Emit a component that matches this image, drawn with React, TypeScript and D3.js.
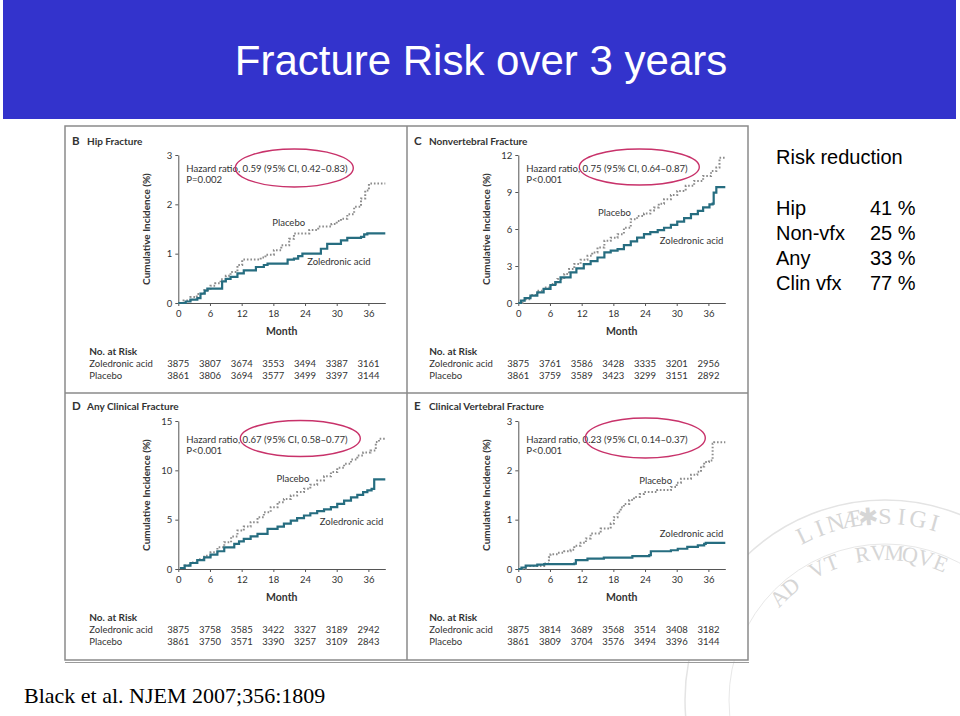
import { useEffect, useRef } from "react";
import * as d3 from "d3";

type Pt = [number, number];

// months shown on the x axis and used for the "No. at Risk" columns
const months = [0, 6, 12, 18, 24, 30, 36];

// B: hip fracture
const hipZol: Pt[] = [
  [0, 0], [1.4, 0.03], [2.3, 0.07], [3.6, 0.1], [4.2, 0.19], [5, 0.25], [5.5, 0.29],
  [8.3, 0.44], [9, 0.49], [9.9, 0.53], [11.2, 0.6], [12.4, 0.66], [14.7, 0.73],
  [16.2, 0.77], [16.9, 0.8], [20.7, 0.88], [21.9, 0.9], [22.7, 0.95], [23.5, 1.0],
  [27, 1.1], [28.2, 1.2], [30.8, 1.27], [32, 1.32], [34.6, 1.34], [35.2, 1.39],
  [35.8, 1.41], [39.2, 1.41],
];
const hipPla: Pt[] = [
  [0, 0], [1, 0.05], [2.3, 0.12], [3.5, 0.18], [4.9, 0.26], [6.1, 0.35], [7, 0.4],
  [8, 0.48], [9, 0.55], [9.9, 0.63], [11.2, 0.77], [12.1, 0.88], [15.6, 0.92],
  [16.5, 0.98], [18.1, 1.07], [19.5, 1.17], [21, 1.3], [21.9, 1.41], [24.8, 1.48],
  [26.5, 1.55], [29, 1.6], [30, 1.66], [30.8, 1.71], [32, 1.8], [33.3, 1.95],
  [34.6, 2.12], [35.4, 2.28], [36.1, 2.42], [39.2, 2.42],
];
const hipRiskZol = [3875, 3807, 3674, 3553, 3494, 3387, 3161];
const hipRiskPla = [3861, 3806, 3694, 3577, 3499, 3397, 3144];

// C: nonvertebral fracture
const nonvertZol: Pt[] = [
  [0, 0], [0.5, 0.2], [1.2, 0.4], [2.3, 0.59], [3.6, 0.86], [4.8, 1.15], [6.1, 1.46],
  [7, 1.7], [8, 2.08], [9.9, 2.48], [11, 2.8], [12.4, 3.16], [13.7, 3.4], [15, 3.69],
  [16.3, 4.1], [17.5, 4.25], [18.8, 4.37], [20, 4.7], [21.3, 4.99], [22.5, 5.3],
  [23.8, 5.58], [25, 5.75], [26.4, 5.91], [27.6, 6.1], [28.9, 6.34], [30.1, 6.6],
  [31.4, 6.88], [32.7, 7.2], [34, 7.47], [35, 7.75], [36.2, 8.0], [36.8, 8.06],
  [37, 8.95], [37.5, 9.4], [39.2, 9.4],
];
const nonvertPla: Pt[] = [
  [0, 0], [1, 0.3], [2.3, 0.65], [3.6, 1.0], [4.8, 1.25], [6.1, 1.54], [7.4, 1.95],
  [8.7, 2.35], [9.6, 2.75], [10.6, 3.16], [11.8, 3.5], [13.1, 3.83], [14, 4.1],
  [15, 4.5], [16.3, 5.04], [17.5, 5.3], [18.8, 5.58], [20, 6.1], [21.3, 6.8],
  [22.5, 7.05], [23.8, 7.25], [25, 7.5], [25.7, 7.74], [26.6, 8.05], [27.6, 8.41],
  [28.9, 8.75], [30.1, 9.09], [31.7, 9.5], [33.3, 9.9], [35, 10.3], [36.5, 10.7],
  [37.5, 10.98], [38.1, 11.78], [39.2, 11.8],
];
const nonvertRiskZol = [3875, 3761, 3586, 3428, 3335, 3201, 2956];
const nonvertRiskPla = [3861, 3759, 3589, 3423, 3299, 3151, 2892];

// D: any clinical fracture
const anyZol: Pt[] = [
  [0.3, 0.1], [1.2, 0.35], [2.3, 0.61], [3.6, 0.9], [4.9, 1.18], [6.1, 1.46],
  [7.4, 1.8], [8.7, 2.2], [10.6, 2.54], [11.5, 2.8], [12.4, 3.05], [13.7, 3.3],
  [15, 3.56], [16.9, 4.06], [18.8, 4.3], [20, 4.6], [21.3, 4.91], [22.5, 5.15],
  [23.8, 5.42], [25, 5.65], [26.3, 5.86], [27.6, 6.05], [28.9, 6.27], [30.1, 6.6],
  [31.4, 6.94], [32.7, 7.25], [33.9, 7.52], [35, 7.8], [35.8, 7.96], [36.6, 8.13],
  [37.1, 9.08], [39.2, 9.08],
];
const anyPla: Pt[] = [
  [0.3, 0.1], [1.2, 0.35], [2.3, 0.65], [3.6, 1.0], [4.9, 1.35], [6.1, 1.69],
  [7.4, 2.2], [8.7, 2.71], [10, 3.3], [11.2, 3.89], [12.4, 4.3], [13.7, 4.74],
  [15, 5.25], [16.2, 5.76], [17.5, 6.25], [18.8, 6.77], [20, 7.1], [21.3, 7.45],
  [22.5, 7.8], [23.8, 8.13], [25, 8.55], [26.3, 8.97], [27.6, 9.4], [28.9, 9.82],
  [30.1, 10.25], [31.4, 10.67], [32.7, 11.1], [33.9, 11.51], [35, 11.8],
  [36.4, 12.02], [37.4, 12.87], [38, 13.2], [39.2, 13.2],
];
const anyRiskZol = [3875, 3758, 3585, 3422, 3327, 3189, 2942];
const anyRiskPla = [3861, 3750, 3571, 3390, 3257, 3109, 2843];

// E: clinical vertebral fracture
const vertZol: Pt[] = [
  [0, 0], [0.6, 0.03], [1.4, 0.07], [3.6, 0.09], [4.9, 0.1], [10.6, 0.11],
  [10.9, 0.18], [13.1, 0.21], [16.2, 0.23], [21.6, 0.26], [24.8, 0.28],
  [25.1, 0.36], [28.9, 0.38], [30.2, 0.41], [32, 0.45], [34, 0.48], [35.2, 0.51],
  [35.5, 0.53], [39.2, 0.53],
];
const vertPla: Pt[] = [
  [0, 0], [1.4, 0.06], [4.9, 0.11], [5.8, 0.24], [6.1, 0.3], [7.5, 0.33],
  [8.7, 0.36], [9.9, 0.39], [10.6, 0.47], [11.8, 0.53], [12.8, 0.62], [13.7, 0.72],
  [15.6, 0.82], [17.5, 0.92], [18.1, 1.05], [18.8, 1.16], [19.4, 1.25], [20, 1.32],
  [21, 1.4], [21.9, 1.46], [23, 1.52], [23.8, 1.56], [26.3, 1.6], [28.9, 1.66],
  [30, 1.75], [30.8, 1.83], [32.7, 1.91], [33.9, 1.97], [34.6, 2.08], [35.2, 2.17],
  [36.1, 2.2], [36.8, 2.54], [37.1, 2.57], [39.2, 2.57],
];
const vertRiskZol = [3875, 3814, 3689, 3568, 3514, 3408, 3182];
const vertRiskPla = [3861, 3809, 3704, 3576, 3494, 3396, 3144];

const reductionLabels = ["Hip", "Non-vfx", "Any", "Clin vfx"];
const reductionValues = [41, 25, 33, 77];

// lettering of the faint seal watermark
const sealOuterText = "LINÆ\u2731SIGILLVM";
const sealInnerText = "AD VT RVMQVE";

const panels = [
  {
    letter: "B", title: "Hip Fracture", yTicks: [0, 1, 2, 3],
    hazard: "Hazard ratio, 0.59 (95% CI, 0.42\u20130.83)", p: "P=0.002",
    zol: hipZol, pla: hipPla, riskZol: hipRiskZol, riskPla: hipRiskPla,
    col: 0, row: 0, hazardDy: 17, ellipse: [116, 13, 59, 19],
    plaLabel: [17.8, 1.62], zolLabel: [24.4, 0.83],
  },
  {
    letter: "C", title: "Nonvertebral Fracture", yTicks: [0, 3, 6, 9, 12],
    hazard: "Hazard ratio, 0.75 (95% CI, 0.64\u20130.87)", p: "P<0.001",
    zol: nonvertZol, pla: nonvertPla, riskZol: nonvertRiskZol, riskPla: nonvertRiskPla,
    col: 1, row: 0, hazardDy: 17, ellipse: [121, 12, 60, 18],
    plaLabel: [15.1, 7.3], zolLabel: [26.8, 5.03],
  },
  {
    letter: "D", title: "Any Clinical Fracture", yTicks: [0, 5, 10, 15],
    hazard: "Hazard ratio, 0.67 (95% CI, 0.58\u20130.77)", p: "P<0.001",
    zol: anyZol, pla: anyPla, riskZol: anyRiskZol, riskPla: anyRiskPla,
    col: 0, row: 1, hazardDy: 22, ellipse: [122, 17.5, 60, 18],
    plaLabel: [18.6, 9.12], zolLabel: [26.8, 4.76],
  },
  {
    letter: "E", title: "Clinical Vertebral Fracture", yTicks: [0, 1, 2, 3],
    hazard: "Hazard ratio, 0.23 (95% CI, 0.14\u20130.37)", p: "P<0.001",
    zol: vertZol, pla: vertPla, riskZol: vertRiskZol, riskPla: vertRiskPla,
    col: 1, row: 1, hazardDy: 22, ellipse: [127, 17, 60, 20],
    plaLabel: [22.9, 1.8], zolLabel: [26.8, 0.71],
  },
];

const figFont = "Lato, 'Open Sans', 'DejaVu Sans', sans-serif";
const slideFont = "'Liberation Sans', Arial, sans-serif";
const zolColor = "#266d80";
const plaColor = "#8c8c8c";
const ink = "#333333";

export default function App() {
  const ref = useRef<SVGSVGElement>(null);

  useEffect(() => {
    const svg = d3.select(ref.current);
    svg.selectAll("*").remove();

    svg.append("rect").attr("width", 960).attr("height", 716).attr("fill", "#ffffff");

    // faint university seal in the lower right corner, lettered one glyph at a time
    const seal = svg.append("g").attr("font-family", "'Liberation Serif', serif").attr("fill", "#d6d6d6");
    const sc = [885, 700];
    const deg = Math.PI / 180;
    seal.append("circle").attr("cx", sc[0]).attr("cy", sc[1]).attr("r", 200)
      .attr("fill", "none").attr("stroke", "#e4e4e4").attr("stroke-width", 1.5);
    seal.append("circle").attr("cx", sc[0]).attr("cy", sc[1]).attr("r", 156)
      .attr("fill", "none").attr("stroke", "#e8e8e8").attr("stroke-width", 1);
    const ring = (txt: string, r: number, a0: number, step: number, size: number) => {
      Array.from(txt).forEach((ch, i) => {
        const a = (a0 + i * step) * deg;
        const cx = sc[0] + r * Math.cos(a);
        const cy = sc[1] + r * Math.sin(a);
        if (ch === " " || cx > 945) return;
        seal.append("text").attr("x", cx).attr("y", cy).attr("text-anchor", "middle")
          .attr("font-size", size)
          .attr("transform", `rotate(${a / deg + 90} ${cx} ${cy})`)
          .text(ch);
      });
    };
    ring(sealOuterText, 176, -116, 5.2, 24);
    ring(sealInnerText, 140, -136, 6.2, 22);

    // header band
    svg.append("rect").attr("x", 3).attr("y", 0).attr("width", 953).attr("height", 119).attr("fill", "#3333cc");
    svg.append("text").attr("x", 481).attr("y", 75).attr("text-anchor", "middle")
      .attr("font-family", slideFont).attr("font-size", 42).attr("fill", "#ffffff")
      .text("Fracture Risk over 3 years");

    // figure box
    const fig = { x: 65, y: 126, w: 683, h: 534, midX: 407, midY: 393 };
    svg.append("rect").attr("x", fig.x).attr("y", fig.y).attr("width", fig.w).attr("height", fig.h)
      .attr("fill", "#ffffff").attr("stroke", "#8a8a8a").attr("stroke-width", 1.5);
    svg.append("line").attr("x1", fig.x).attr("x2", fig.x + fig.w + 1).attr("y1", fig.y + fig.h + 2.5).attr("y2", fig.y + fig.h + 2.5)
      .attr("stroke", "#9a9a9a").attr("stroke-width", 1);
    svg.append("line").attr("x1", fig.midX).attr("x2", fig.midX).attr("y1", fig.y).attr("y2", fig.y + fig.h)
      .attr("stroke", "#8a8a8a").attr("stroke-width", 1.5);
    svg.append("line").attr("x1", fig.x).attr("x2", fig.x + fig.w).attr("y1", fig.midY).attr("y2", fig.midY)
      .attr("stroke", "#8a8a8a").attr("stroke-width", 1.5);

    const colX = [178.3, 518.3];
    const rowY0 = [303, 569];
    const plotW = 207;
    const plotH = 148;
    const boxLeft = [fig.x, fig.midX];
    const titleY = [144.5, 409.5];

    panels.forEach((pnl) => {
      const px0 = colX[pnl.col];
      const py0 = rowY0[pnl.row];
      const yMax = pnl.yTicks[pnl.yTicks.length - 1];
      const x = d3.scaleLinear().domain([0, 39.2]).range([px0, px0 + plotW]);
      const y = d3.scaleLinear().domain([0, yMax]).range([py0, py0 - plotH]);
      const g = svg.append("g").attr("font-family", figFont).attr("fill", ink);

      // panel title
      const t = g.append("text").attr("y", titleY[pnl.row]).attr("font-weight", 700);
      t.append("tspan").attr("x", boxLeft[pnl.col] + 7).attr("font-size", 11.5).text(pnl.letter);
      t.append("tspan").attr("x", boxLeft[pnl.col] + 22).attr("font-size", 10).text(pnl.title);

      // axes
      const yAxis = g.append("g").attr("transform", `translate(${px0},0)`)
        .call(d3.axisLeft(y).tickValues(pnl.yTicks).tickFormat(d3.format("d")).tickSize(3).tickPadding(3).tickSizeOuter(0));
      const xAxis = g.append("g").attr("transform", `translate(0,${py0})`)
        .call(d3.axisBottom(x).tickValues(months).tickFormat(d3.format("d")).tickSize(3).tickPadding(4).tickSizeOuter(0));
      [xAxis, yAxis].forEach((a) => {
        a.attr("font-family", figFont).attr("font-size", 9.5);
        a.select(".domain").attr("stroke", "#555555").attr("stroke-width", 1);
        a.selectAll(".tick line").attr("stroke", "#555555");
        a.selectAll(".tick text").attr("fill", ink);
      });

      g.append("text").attr("x", px0 - 31.5).attr("y", py0 - plotH / 2)
        .attr("transform", `rotate(-90 ${px0 - 31.5} ${py0 - plotH / 2})`)
        .attr("text-anchor", "middle").attr("dy", "0.35em")
        .attr("font-size", 10).attr("font-weight", 700).text("Cumulative Incidence (%)");
      g.append("text").attr("x", px0 + plotW / 2).attr("y", py0 + 32)
        .attr("text-anchor", "middle").attr("font-size", 10.5).attr("font-weight", 700).text("Month");

      // curves
      const line = d3.line<Pt>().x((d) => x(d[0])).y((d) => y(d[1])).curve(d3.curveStepAfter);
      g.append("path").attr("d", line(pnl.pla)).attr("fill", "none")
        .attr("stroke", plaColor).attr("stroke-width", 2).attr("stroke-dasharray", "1.6,1.9");
      g.append("path").attr("d", line(pnl.zol)).attr("fill", "none")
        .attr("stroke", zolColor).attr("stroke-width", 2.2);

      g.append("text").attr("x", x(pnl.plaLabel[0])).attr("y", y(pnl.plaLabel[1])).attr("dy", "0.35em")
        .attr("font-size", 9.5).text("Placebo");
      g.append("text").attr("x", x(pnl.zolLabel[0])).attr("y", y(pnl.zolLabel[1])).attr("dy", "0.35em")
        .attr("font-size", 9.5).text("Zoledronic acid");

      // hazard ratio and circled estimate
      const hy = py0 - plotH + pnl.hazardDy;
      g.append("text").attr("x", px0 + 8).attr("y", hy).attr("font-size", 9.6).text(pnl.hazard);
      g.append("text").attr("x", px0 + 8).attr("y", hy + 11).attr("font-size", 9.6).text(pnl.p);
      const [ex, ey, rx, ry] = pnl.ellipse;
      g.append("ellipse").attr("cx", px0 + ex).attr("cy", py0 - plotH + ey).attr("rx", rx).attr("ry", ry)
        .attr("fill", "none").attr("stroke", "#c8326a").attr("stroke-width", 1.4);

      // number at risk
      g.append("text").attr("x", px0 - 89).attr("y", py0 + 52).attr("font-size", 10)
        .attr("font-weight", 700).text("No. at Risk");
      g.append("text").attr("x", px0 - 89).attr("y", py0 + 64).attr("font-size", 9.5).text("Zoledronic acid");
      g.append("text").attr("x", px0 - 89).attr("y", py0 + 76).attr("font-size", 9.5).text("Placebo");
      g.selectAll("text.rz").data(pnl.riskZol).join("text").attr("class", "rz")
        .attr("x", (_, i) => x(months[i])).attr("y", py0 + 64).attr("text-anchor", "middle")
        .attr("font-size", 9.5).text((d) => d);
      g.selectAll("text.rp").data(pnl.riskPla).join("text").attr("class", "rp")
        .attr("x", (_, i) => x(months[i])).attr("y", py0 + 76).attr("text-anchor", "middle")
        .attr("font-size", 9.5).text((d) => d);
    });

    // risk reduction summary
    const rr = svg.append("g").attr("font-family", slideFont).attr("font-size", 20).attr("fill", "#000000");
    rr.append("text").attr("x", 776).attr("y", 164).text("Risk reduction");
    rr.selectAll("text.lab").data(reductionLabels).join("text").attr("class", "lab")
      .attr("x", 776).attr("y", (_, i) => 215 + i * 25).text((d) => d);
    rr.selectAll("text.val").data(reductionValues).join("text").attr("class", "val")
      .attr("x", 870).attr("y", (_, i) => 215 + i * 25).text((d) => `${d} %`);

    svg.append("text").attr("x", 24).attr("y", 703).attr("font-family", "'Liberation Serif', 'Times New Roman', serif")
      .attr("font-size", 22).attr("fill", "#000000").text("Black et al. NJEM 2007;356:1809");
  }, []);

  return (
    <svg
      ref={ref}
      width={960}
      height={716}
      style={{ position: "absolute", left: 0, top: 0, display: "block" }}
    />
  );
}
